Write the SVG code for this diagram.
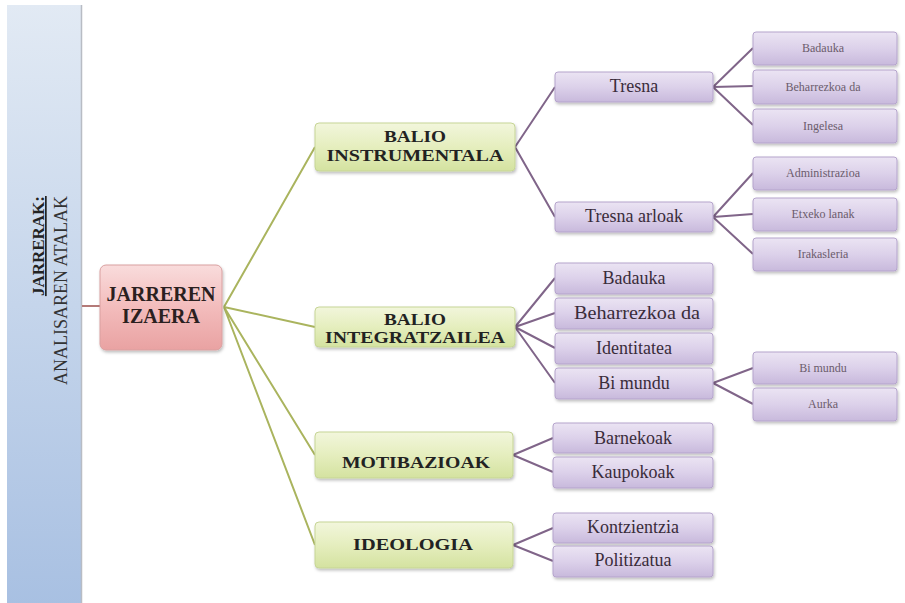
<svg xmlns="http://www.w3.org/2000/svg" width="905" height="603" viewBox="0 0 905 603" font-family="'Liberation Serif', 'DejaVu Serif', serif">
<defs>
<linearGradient id="gBar" x1="0" y1="0" x2="0" y2="1"><stop offset="0" stop-color="#e2eaf4"/><stop offset="1" stop-color="#a8c0e2"/></linearGradient>
<linearGradient id="gRoot" x1="0" y1="0" x2="0" y2="1"><stop offset="0" stop-color="#f9dcdc"/><stop offset="0.5" stop-color="#f3bcbc"/><stop offset="1" stop-color="#e9a2a2"/></linearGradient>
<linearGradient id="gL1" x1="0" y1="0" x2="0" y2="1"><stop offset="0" stop-color="#f2f6dc"/><stop offset="0.5" stop-color="#e5eebe"/><stop offset="1" stop-color="#d4e2a0"/></linearGradient>
<linearGradient id="gL2" x1="0" y1="0" x2="0" y2="1"><stop offset="0" stop-color="#ebe4f3"/><stop offset="0.5" stop-color="#dcd1ea"/><stop offset="1" stop-color="#c8b9dc"/></linearGradient>
<filter id="sh" x="-10%" y="-20%" width="130%" height="160%"><feDropShadow dx="1" dy="2" stdDeviation="1.5" flood-color="#000" flood-opacity="0.25"/></filter>
</defs>
<style>
.root rect{fill:url(#gRoot);stroke:#d9a0a0;stroke-width:1;filter:url(#sh)}
.l1 rect{fill:url(#gL1);stroke:#c6d596;stroke-width:1;filter:url(#sh)}
.l2 rect{fill:url(#gL2);stroke:#b5a4cc;stroke-width:1;filter:url(#sh)}
.l3 rect{fill:url(#gL2);stroke:#b5a4cc;stroke-width:1;filter:url(#sh)}
text{text-anchor:middle}
.root text{font-size:20px;font-weight:bold;fill:#2a2020}
.l1 text{font-size:17px;font-weight:bold;fill:#222}
.l2 text{font-size:18px;fill:#3a2c3a}
.l3 text{font-size:12px;fill:#6b5c6b}
.c0{stroke:#b47a78;stroke-width:2;fill:none}
.c1{stroke:#aab45e;stroke-width:2;fill:none}
.c2{stroke:#806589;stroke-width:2;fill:none}
</style>
<g id="bar">
<rect x="7" y="5" width="74" height="600" fill="url(#gBar)"/>
<line x1="81.5" y1="5" x2="81.5" y2="603" stroke="#b8bcc4" stroke-width="1.5"/>
<text transform="translate(44,196) rotate(-90)" font-size="17" font-weight="bold" fill="#222" text-decoration="underline" style="text-anchor:end">JARRERAK:</text>
<text transform="translate(67,196) rotate(-90)" font-size="18" fill="#333" style="text-anchor:end">ANALISAREN ATALAK</text>
</g>
<g id="connectors">
<line class="c0" x1="82" y1="306" x2="100" y2="306"/>
<path class="c1" d="M224,307 L315,147 M224,307 L315,327 M224,307 L315,455 M224,307 L315,545"/>
<path class="c2" d="M515,147 L555,87 M515,147 L555,217 M515,327 L555,278 M515,327 L555,313 M515,327 L555,348 M515,327 L555,383 M513,455 L553,438 M513,455 L553,472 M513,545 L553,528 M513,545 L553,561"/>
<path class="c2" d="M713,87 L753,48 M713,87 L753,86 M713,87 L753,125 M713,217 L753,173 M713,217 L753,214 M713,217 L753,254 M713,383 L753,368 M713,383 L753,404"/>
</g>
<g id="n-root" class="root"><rect x="100" y="265" width="122" height="85" rx="6"/><text x="161" y="301">JARREREN</text><text x="161" y="323">IZAERA</text></g>
<g id="n-instr" class="l1"><rect x="315" y="123" width="200" height="48" rx="4"/><text x="415" y="142" textLength="62" lengthAdjust="spacingAndGlyphs">BALIO</text><text x="415" y="161" textLength="177" lengthAdjust="spacingAndGlyphs">INSTRUMENTALA</text></g>
<g id="n-integr" class="l1"><rect x="315" y="307" width="200" height="40" rx="4"/><text x="415" y="325" textLength="62" lengthAdjust="spacingAndGlyphs">BALIO</text><text x="415" y="343" textLength="180" lengthAdjust="spacingAndGlyphs">INTEGRATZAILEA</text></g>
<g id="n-motib" class="l1"><rect x="315" y="432" width="198" height="46" rx="4"/><text x="416" y="468" textLength="148" lengthAdjust="spacingAndGlyphs">MOTIBAZIOAK</text></g>
<g id="n-ideo" class="l1"><rect x="315" y="522" width="198" height="46" rx="4"/><text x="413" y="550" textLength="120" lengthAdjust="spacingAndGlyphs">IDEOLOGIA</text></g>
<g id="n-tresna" class="l2"><rect x="555" y="72" width="158" height="30" rx="3"/><text x="634" y="92">Tresna</text></g>
<g id="n-tresna-arloak" class="l2"><rect x="555" y="202" width="158" height="30" rx="3"/><text x="634" y="222">Tresna arloak</text></g>
<g id="n-badauka" class="l2"><rect x="555" y="263" width="158" height="31" rx="3"/><text x="634" y="284">Badauka</text></g>
<g id="n-behar" class="l2"><rect x="555" y="298" width="158" height="31" rx="3"/><text x="637" y="319" textLength="126" lengthAdjust="spacingAndGlyphs">Beharrezkoa da</text></g>
<g id="n-ident" class="l2"><rect x="555" y="333" width="158" height="31" rx="3"/><text x="634" y="354">Identitatea</text></g>
<g id="n-bimundu" class="l2"><rect x="555" y="368" width="158" height="31" rx="3"/><text x="634" y="389">Bi mundu</text></g>
<g id="n-barne" class="l2"><rect x="553" y="423" width="160" height="30" rx="3"/><text x="633" y="444">Barnekoak</text></g>
<g id="n-kaupo" class="l2"><rect x="553" y="457" width="160" height="31" rx="3"/><text x="633" y="478">Kaupokoak</text></g>
<g id="n-kontz" class="l2"><rect x="553" y="513" width="160" height="30" rx="3"/><text x="633" y="533">Kontzientzia</text></g>
<g id="n-polit" class="l2"><rect x="553" y="546" width="160" height="31" rx="3"/><text x="633" y="566">Politizatua</text></g>
<g id="n-l3-badauka" class="l3"><rect x="753" y="32" width="144" height="33" rx="3"/><text x="823" y="52">Badauka</text></g>
<g id="n-l3-behar" class="l3"><rect x="753" y="70" width="144" height="34" rx="3"/><text x="823" y="91">Beharrezkoa da</text></g>
<g id="n-l3-ingelesa" class="l3"><rect x="753" y="109" width="144" height="34" rx="3"/><text x="823" y="130">Ingelesa</text></g>
<g id="n-l3-admin" class="l3"><rect x="753" y="157" width="144" height="33" rx="3"/><text x="823" y="177">Administrazioa</text></g>
<g id="n-l3-etxeko" class="l3"><rect x="753" y="198" width="144" height="33" rx="3"/><text x="823" y="218">Etxeko lanak</text></g>
<g id="n-l3-irakas" class="l3"><rect x="753" y="238" width="144" height="33" rx="3"/><text x="823" y="258">Irakasleria</text></g>
<g id="n-l3-bimundu" class="l3"><rect x="753" y="352" width="144" height="32" rx="3"/><text x="823" y="372">Bi mundu</text></g>
<g id="n-l3-aurka" class="l3"><rect x="753" y="388" width="144" height="33" rx="3"/><text x="823" y="408">Aurka</text></g>
</svg>
